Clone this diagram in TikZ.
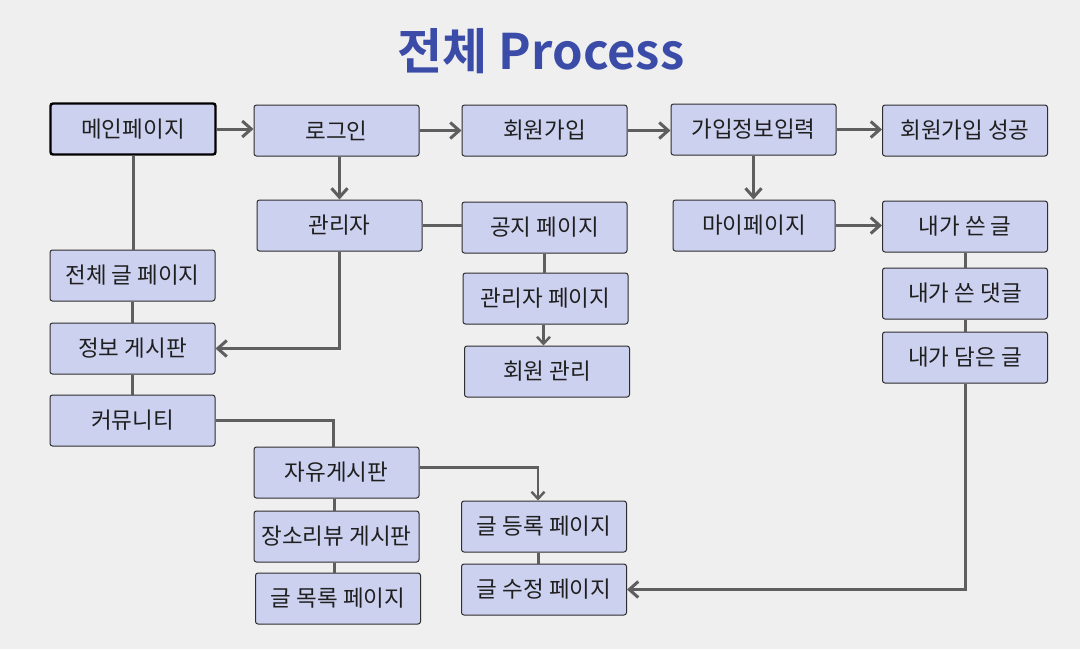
\documentclass[tikz,border=0pt]{standalone}
\usepackage{fontspec}
\setmainfont{Noto Sans CJK KR}
\newfontfamily\titlefont{Noto Sans CJK KR Bold}
\usetikzlibrary{arrows.meta}
\definecolor{bg}{HTML}{EFEFEF}
\definecolor{boxfill}{HTML}{CDD1F0}
\definecolor{boxline}{HTML}{2E2E2E}
\definecolor{wire}{HTML}{5E5E5E}
\definecolor{titleblue}{HTML}{3A4BA8}
\tikzset{
  pagebox/.style={draw=boxline, line width=1pt, fill=boxfill, rounded corners=2.5pt,
    minimum width=165pt, minimum height=51pt, inner sep=0pt,
    font=\fontsize{22.5}{26}\selectfont, text=black!88},
  mainbox/.style={pagebox, draw=black, line width=2.4pt},
  link/.style={draw=wire, line width=3pt},
  thinlink/.style={draw=wire, line width=2.4pt},
  arrow/.style={link, -{Straight Barb[length=9pt,width=16pt]}},
  thinarrow/.style={thinlink, -{Straight Barb[length=7pt,width=13pt]}},
}
\begin{document}
\begin{tikzpicture}[x=1pt,y=-1pt]
\fill[bg] (0,0) rectangle (1080,649);
\useasboundingbox (0,0) rectangle (1080,649);

\node[font=\titlefont\fontsize{49}{53}\selectfont, text=titleblue] (title) at (541,51) {전체 Process};

% row 1
\node[mainbox] (main) at (133,129) {메인페이지};
\node[pagebox] (login) at (336.5,130.5) {로그인};
\node[pagebox] (join) at (544.5,130.5) {회원가입};
\node[pagebox] (info) at (753.5,129.5) {가입정보입력};
\node[pagebox] (success) at (965,130.5) {회원가입 성공};

% row 2
\node[pagebox] (admin) at (339.5,225.5) {관리자};
\node[pagebox] (notice) at (544.5,227.5) {공지 페이지};
\node[pagebox, minimum width=162pt] (mypage) at (754,225.5) {마이페이지};
\node[pagebox] (mypost) at (965,226.5) {내가 쓴 글};

% left column
\node[pagebox] (allpost) at (132.5,275.5) {전체 글 페이지};
\node[pagebox] (infoboard) at (132.5,348.5) {정보 게시판};
\node[pagebox] (community) at (132.5,420.5) {커뮤니티};

% middle column
\node[pagebox] (adminpage) at (545.5,298.5) {관리자 페이지};
\node[pagebox] (member) at (547,371.5) {회원 관리};

% right column
\node[pagebox] (mycomment) at (965,293.5) {내가 쓴 댓글};
\node[pagebox] (myliked) at (965,357.5) {내가 담은 글};

% bottom
\node[pagebox] (free) at (336.5,472.5) {자유게시판};
\node[pagebox] (review) at (336.5,536.5) {장소리뷰 게시판};
\node[pagebox] (list) at (338,598.5) {글 목록 페이지};
\node[pagebox] (write) at (544,526.5) {글 등록 페이지};
\node[pagebox] (edit) at (544,589.5) {글 수정 페이지};

% arrows row 1
\draw[arrow] (main.east) -- (main.east -| login.west);
\draw[arrow] (login.east) -- (login.east -| join.west);
\draw[arrow] (join.east) -- (join.east -| info.west);
\draw[arrow] (info.east) -- (info.east -| success.west);
\draw[arrow] (login.south -| admin) -- (admin.north);
\draw[arrow] (info.south) -- (info.south |- mypage.north);
\draw[arrow] (mypage.east) -- (mypage.east -| mypost.west);

% admin branch
\draw[link] (admin.east) -- (admin.east -| notice.west);
\draw[link] (notice.south) -- (notice.south |- adminpage.north);
\draw[thinarrow] ([xshift=-2pt]adminpage.south) -- ([xshift=-2pt]adminpage.south |- member.north);
\draw[arrow] (admin.south) |- (infoboard.east);

% left column
\draw[link] (main.south) -- (main.south |- allpost.north);
\draw[link] (allpost.south) -- (infoboard.north);
\draw[link] (infoboard.south) -- (community.north);
\draw[link] (community.east) -| ([xshift=-3pt]free.north);

% community boards
\draw[thinarrow] ([yshift=5pt]free.east) -| ([xshift=-6pt]write.north);
\draw[link] ([xshift=-2pt]free.south) -- ([xshift=-2pt]free.south |- review.north);
\draw[link] ([xshift=-2pt]review.south) -- ([xshift=-2pt]review.south |- list.north);
\draw[link] ([xshift=-6pt]write.south) -- ([xshift=-6pt]write.south |- edit.north);

% mypage column
\draw[link] (mypost.south) -- (mycomment.north);
\draw[link] (mycomment.south) -- (myliked.north);
\draw[arrow] (myliked.south) |- (edit.east);
\end{tikzpicture}
\end{document}
